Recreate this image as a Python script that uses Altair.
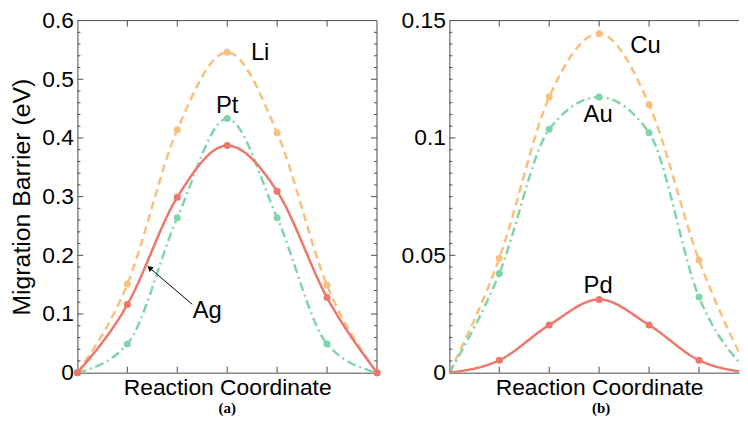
import altair as alt
import pandas as pd

# ---------------- data ----------------
x_pos = [0, 1, 2, 3, 4, 5, 6]

# panel (a)
li = [0, 0.151, 0.414, 0.546, 0.409, 0.149, 0]
pt = [0, 0.049, 0.264, 0.433, 0.264, 0.049, 0]
ag = [0, 0.116, 0.299, 0.387, 0.309, 0.128, 0]
# panel (b)
cu = [0, 0.0487, 0.1174, 0.1444, 0.1142, 0.048, 0]
au = [0, 0.0423, 0.1037, 0.1174, 0.1022, 0.0322, 0]
pd_ = [0, 0.0053, 0.0203, 0.0312, 0.0203, 0.0053, 0]

names_a = ["Li", "Pt", "Ag"]
names_b = ["Cu", "Au", "Pd"]
colors = ["#F7C07C", "#7FD5A9", "#EE766A"]
dashes = [[8, 5], [9, 4, 2, 4], [1, 0]]

ticks_a_major = [0, 0.1, 0.2, 0.3, 0.4, 0.5, 0.6]
ticks_a_minor = [0.02, 0.04, 0.06, 0.08, 0.12, 0.14, 0.16, 0.18, 0.22, 0.24, 0.26, 0.28,
                 0.32, 0.34, 0.36, 0.38, 0.42, 0.44, 0.46, 0.48, 0.52, 0.54, 0.56, 0.58]
ticks_b_major = [0, 0.05, 0.1, 0.15]
ticks_b_minor = [0.005, 0.01, 0.015, 0.02, 0.025, 0.03, 0.035, 0.04, 0.045,
                 0.055, 0.06, 0.065, 0.07, 0.075, 0.08, 0.085, 0.09, 0.095,
                 0.105, 0.11, 0.115, 0.12, 0.125, 0.13, 0.135, 0.14, 0.145]
x_ticks = [1, 2, 3, 4, 5]

# series labels (data units)
lab_a_x = [3.66, 3.0, 2.6]
lab_a_y = [0.545, 0.454, 0.105]
lab_b_x = [3.93, 2.98, 2.98]
lab_b_y = [0.139, 0.1097, 0.037]

# arrow for "Ag" (tail -> head), data units
arrow_tail = [2.30, 0.1165]
arrow_head = [1.41, 0.181]
arrow_tip_mark = [1.46, 0.1775]

FONT = "Liberation Sans"
FRAME = "#4a4a4a"
H = 355
PX_PER_X = 50.33
MAJ = 6
MIN = 3


def panel(names, vals, ymax, major, minor, xmax, W, full_w, ytitle, y_extent,
          lab_x, lab_y, tag, tag_dx, right_frame, clip_pts, arrow=False):
    rows = []
    for n, v in zip(names, vals):
        for x, y in zip(x_pos, v):
            rows.append({"x": x, "y": y, "s": n})
    df = pd.DataFrame(rows)
    xs = alt.Scale(domain=[0, xmax], nice=False, zero=False)
    ys = alt.Scale(domain=[0, ymax], nice=False, zero=True)
    NOX = alt.X("x:Q", scale=xs, axis=None)
    NOY = alt.Y("y:Q", scale=ys, axis=None)

    layers = []
    main_x = alt.Axis(orient="bottom", title="Reaction Coordinate", labels=False, ticks=False,
                      domain=True, grid=False, domainColor=FRAME, titleFont=FONT,
                      titleFontSize=23, titleFontWeight="normal", titleColor="black",
                      titlePadding=4, titleX=full_w / 2, minExtent=0, maxExtent=0)
    main_y = alt.Axis(orient="left", values=major, format=".2~f", title=ytitle, labelFont=FONT,
                      labelFontSize=23, labelColor="black", labelPadding=4, ticks=False,
                      domain=True, domainColor=FRAME, grid=False, minExtent=y_extent,
                      maxExtent=y_extent, titlePadding=7, titleFont=FONT, titleFontSize=25,
                      titleFontWeight="normal", titleColor="black")
    layers.append(alt.Chart(df).mark_point(opacity=0, clip=True).encode(
        x=alt.X("x:Q", scale=xs, axis=main_x), y=alt.Y("y:Q", scale=ys, axis=main_y)))

    def yticks(vals_, x0, x1):
        return alt.Chart(pd.DataFrame({"v": vals_})).mark_rule(color=FRAME, strokeWidth=1).encode(
            y=alt.Y("v:Q", scale=ys, axis=None), x=alt.value(x0), x2=alt.value(x1))

    def xticks(vals_, y0, y1):
        return alt.Chart(pd.DataFrame({"v": vals_})).mark_rule(color=FRAME, strokeWidth=1).encode(
            x=alt.X("v:Q", scale=xs, axis=None), y=alt.value(y0), y2=alt.value(y1))

    one = pd.DataFrame({"a": [0]})
    layers.append(yticks(major[1:-1], 0, MAJ))
    layers.append(yticks(minor, 0, MIN))
    if right_frame:
        layers.append(yticks(major[1:-1], W - MAJ, W))
        layers.append(yticks(minor, W - MIN, W))
        layers.append(alt.Chart(one).mark_rule(color=FRAME, strokeWidth=1).encode(
            x=alt.value(W), y=alt.value(0), y2=alt.value(H)))
    layers.append(xticks(x_ticks, 0, MAJ))
    layers.append(xticks(x_ticks, H - MAJ, H))
    layers.append(alt.Chart(one).mark_rule(color=FRAME, strokeWidth=1).encode(
        x=alt.value(0), x2=alt.value(W), y=alt.value(0)))

    for i, n in enumerate(names):
        d = df[df.s == n]
        layers.append(alt.Chart(d).mark_line(interpolate="monotone", clip=True, strokeWidth=2.5,
                                             color=colors[i], strokeDash=dashes[i]).encode(x=NOX, y=NOY))
    for i, n in enumerate(names):
        d = df[(df.s == n) & (df.x <= xmax)]
        layers.append(alt.Chart(d).mark_point(filled=True, size=50, opacity=1, clip=clip_pts,
                                              color=colors[i]).encode(x=NOX, y=NOY))

    lab_df = pd.DataFrame({"x": lab_x, "y": lab_y, "t": names})
    layers.append(alt.Chart(lab_df).mark_text(font=FONT, fontSize=24, color="black",
                                              align="center", baseline="middle").encode(
        x=NOX, y=NOY, text="t:N"))

    if arrow:
        adf = pd.DataFrame({"x": [arrow_tail[0]], "y": [arrow_tail[1]],
                            "x2": [arrow_head[0]], "y2": [arrow_head[1]]})
        layers.append(alt.Chart(adf).mark_rule(color="black", strokeWidth=1).encode(
            x=NOX, y=NOY, x2="x2:Q", y2="y2:Q"))
        hdf = pd.DataFrame({"x": [arrow_tip_mark[0]], "y": [arrow_tip_mark[1]]})
        layers.append(alt.Chart(hdf).mark_point(shape="triangle", filled=True, color="black",
                                                size=40, angle=310, opacity=1).encode(x=NOX, y=NOY))

    return alt.layer(*layers).resolve_axis(x="independent", y="independent").properties(
        width=W, height=H,
        title=alt.TitleParams(text=tag, orient="bottom", font="Liberation Serif", fontSize=15,
                              fontWeight="bold", color="black", offset=2, anchor="middle", dx=tag_dx))


Wa = 302
Wb = 292
xmax_b = Wb / PX_PER_X  # the right panel is cut off at the page edge, as in the reference

pa = panel(names_a, [li, pt, ag], 0.6, ticks_a_major, ticks_a_minor, 6, Wa, Wa,
           "Migration Barrier (eV)", 36, lab_a_x, lab_a_y, "(a)", 0, True, False, arrow=True)
pb = panel(names_b, [cu, au, pd_], 0.15, ticks_b_major, ticks_b_minor, xmax_b, Wb, 6 * PX_PER_X,
           None, 48, lab_b_x, lab_b_y, "(b)", 7, False, True)

chart = alt.hconcat(pa, pb, spacing=20).properties(
    padding={"left": 2, "top": 0, "right": 0, "bottom": 0}
).configure_view(stroke=None)

chart.save("out.html", embed_options={"renderer": "svg", "actions": False})
